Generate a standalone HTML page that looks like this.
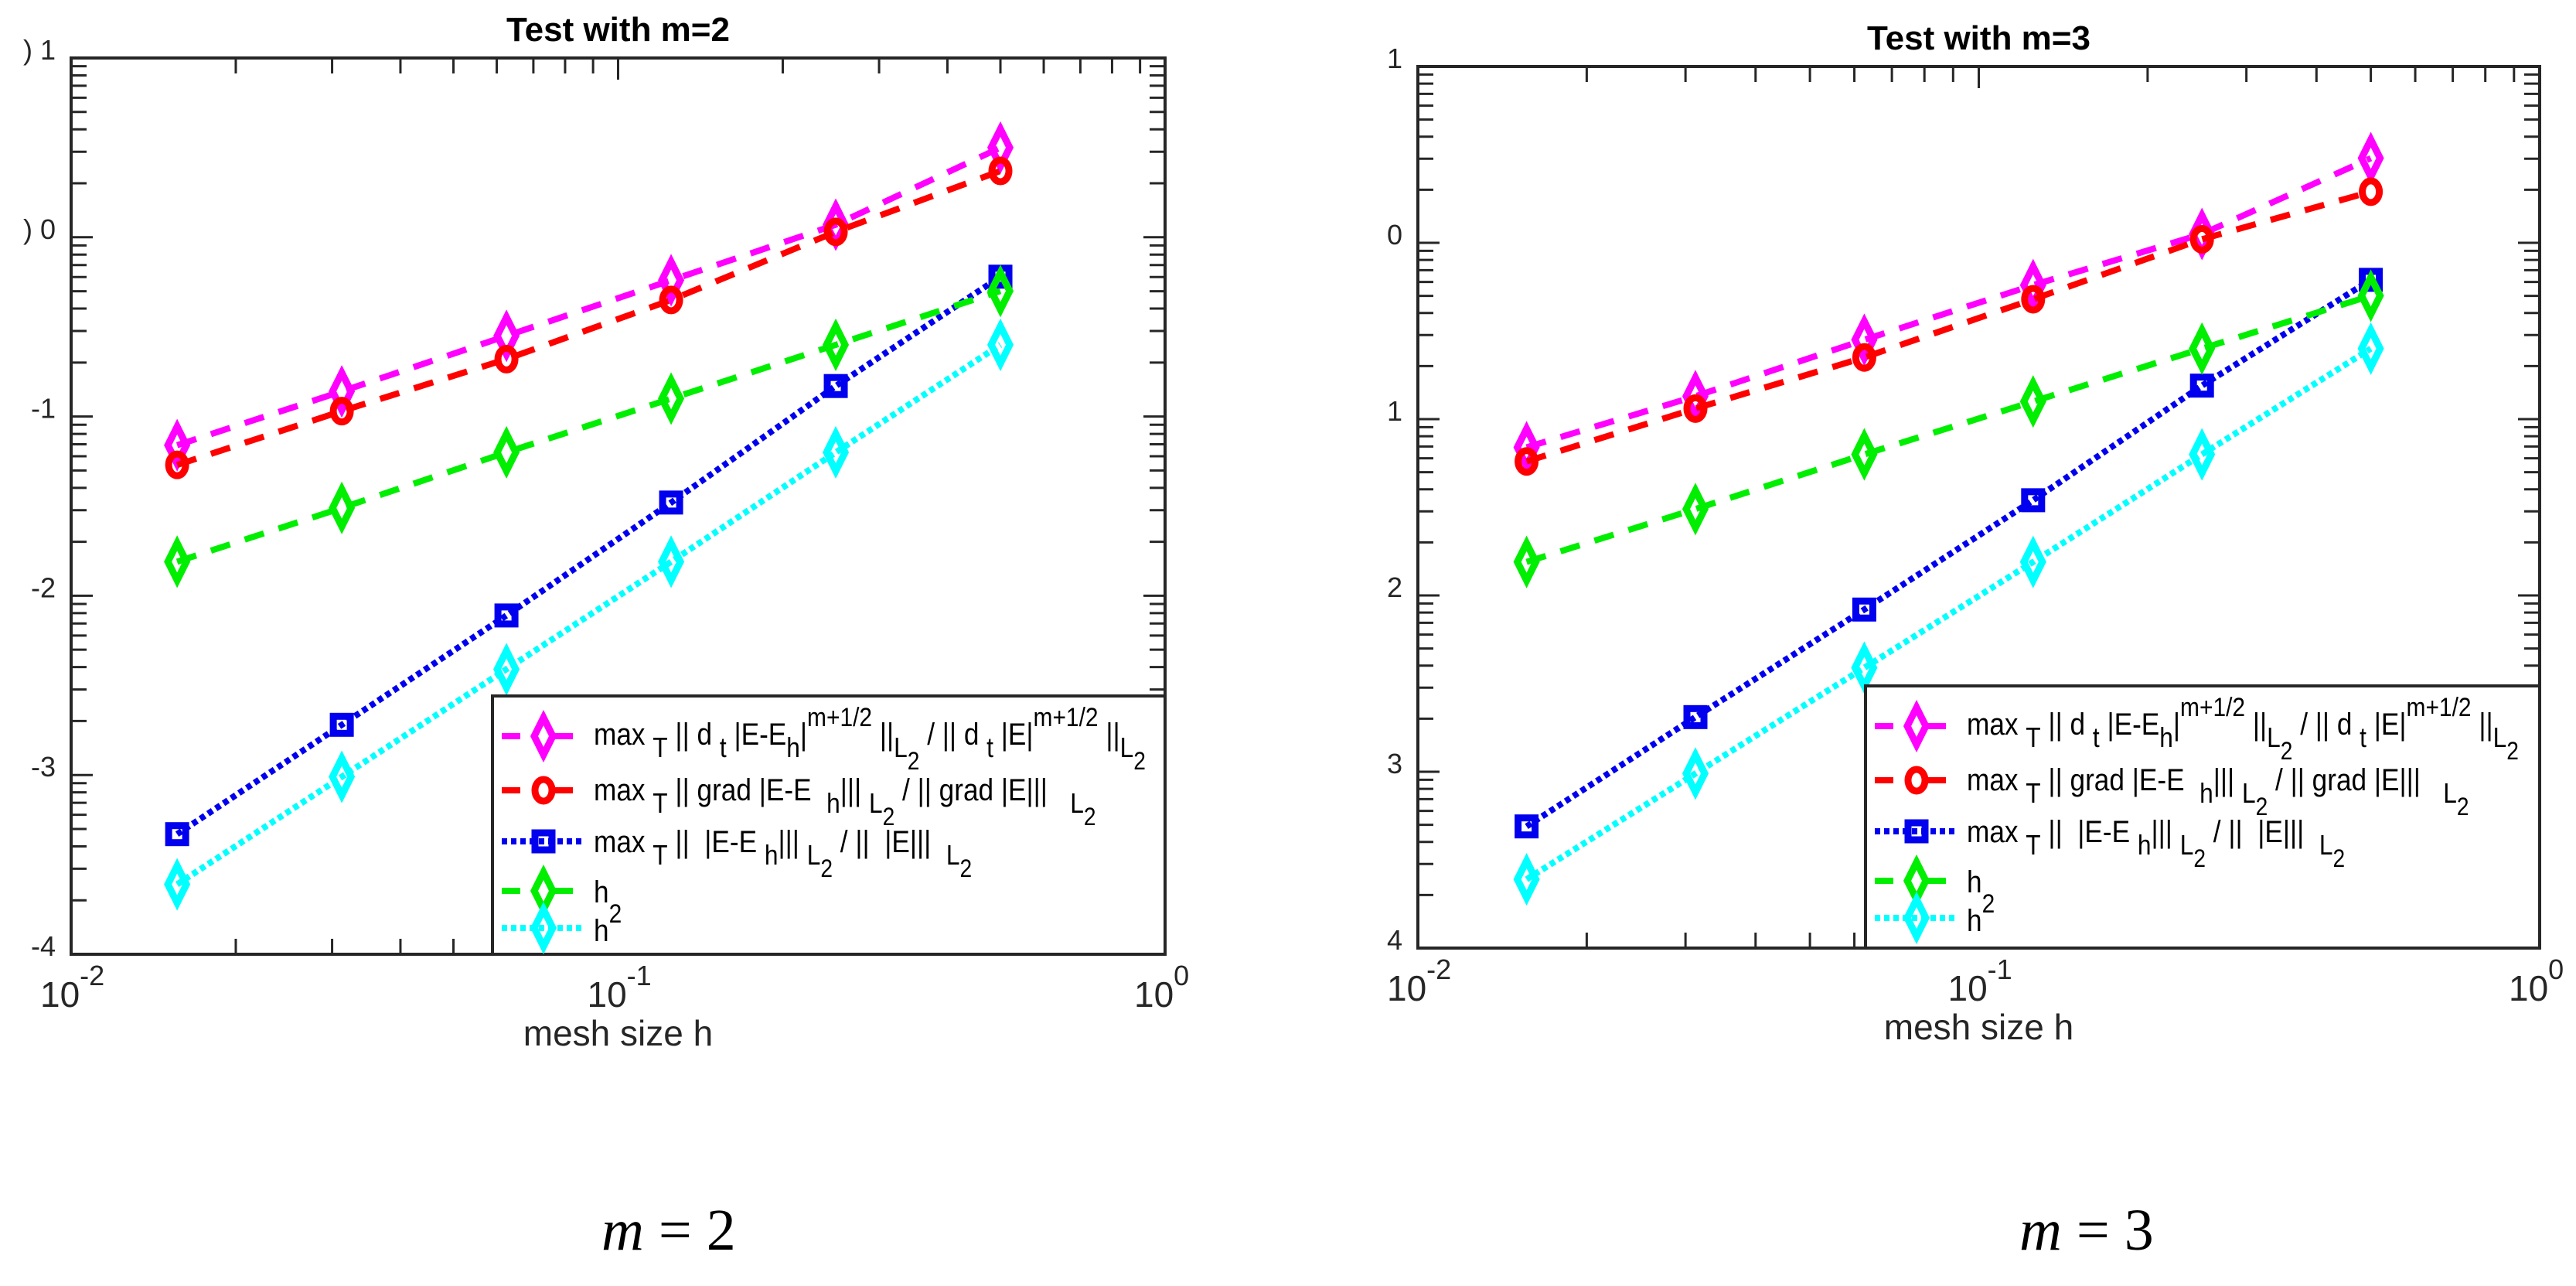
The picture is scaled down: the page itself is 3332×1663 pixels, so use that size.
<!DOCTYPE html>
<html><head><meta charset="utf-8"><style>
html,body{margin:0;padding:0;background:#fff;}
body{width:3332px;height:1663px;position:relative;overflow:hidden;font-family:"Liberation Sans",sans-serif;}
svg{position:absolute;left:0;top:0;}
.leg{position:absolute;font-family:"Liberation Sans",sans-serif;font-size:40px;color:#000;white-space:nowrap;line-height:1;transform:scaleX(0.88);transform-origin:0 0;}
.leg .sb{position:relative;top:16px;font-size:36px;}
.leg .sbb{position:relative;top:32px;font-size:32px;}
.leg .sp{position:relative;top:-24px;font-size:34px;}
.cap{position:absolute;font-family:"Liberation Serif",serif;font-size:76px;top:1548px;}
</style></head><body>
<svg id="fig" width="3332" height="1663"></svg>
<div class="cap" style="left:778px;"><i>m</i> = 2</div>
<div class="cap" style="left:2612px;"><i>m</i> = 3</div>
<script>
const hVals=[1/64,1/32,1/16,1/8,1/4,1/2];
const seriesNames=["dt-error","grad-error","l2-error","h","h2"];
const m2_dt=[-1.16,-0.86,-0.55,-0.24,0.07,0.50];
const m2_grad=[-1.27,-0.97,-0.68,-0.35,0.03,0.37];
const m2_l2=[-3.33,-2.72,-2.11,-1.48,-0.83,-0.22];
const m2_h=[-1.81,-1.51,-1.20,-0.90,-0.60,-0.30];
const m2_h2=[-3.61,-3.01,-2.41,-1.81,-1.20,-0.60];
const m3_dt=[-1.16,-0.87,-0.55,-0.24,0.05,0.48];
const m3_grad=[-1.24,-0.94,-0.65,-0.32,0.02,0.29];
const m3_l2=[-3.31,-2.69,-2.08,-1.46,-0.81,-0.21];
const m3_h=[-1.81,-1.51,-1.20,-0.90,-0.60,-0.30];
const m3_h2=[-3.61,-3.01,-2.41,-1.81,-1.20,-0.60];
const yTicks2=[") 1",") 0","-1","-2","-3","-4"];
const yTicks3=["1","0","1","2","3","4"];
const xTickExp=["-2","-1","0"];
const NS="http://www.w3.org/2000/svg";
const svg=document.getElementById('fig');
function mk(tag,attrs,parent){const e=document.createElementNS(NS,tag);for(const k in attrs)e.setAttribute(k,attrs[k]);(parent||svg).appendChild(e);return e;}
const styles=[
 {c:"#ff00ff",dash:"26,20",mk:"diamond"},
 {c:"#ff0000",dash:"26,20",mk:"circle"},
 {c:"#0000ee",dash:"7,5",mk:"square"},
 {c:"#00ee00",dash:"26,20",mk:"diamond"},
 {c:"#00ffff",dash:"7,5",mk:"diamond"}];
function marker(g,type,x,y,c){
 if(type==="diamond")mk('path',{d:`M${x} ${y-24}L${x+12} ${y}L${x} ${y+24}L${x-12} ${y}Z`,fill:"none",stroke:c,'stroke-width':9},g);
 else if(type==="circle")mk('ellipse',{cx:x,cy:y,rx:11,ry:14,fill:"none",stroke:c,'stroke-width':9},g);
 else mk('rect',{x:x-11,y:y-11,width:22,height:22,fill:"none",stroke:c,'stroke-width':9},g);
}
function plot(P){
 const g=mk('g',{});
 
 
 const dec=(P.r-P.l)/2, ydec=(P.b-P.t)/5;
 const X=v=>P.l+(Math.log10(v)+2)*dec;
 const Y=lv=>P.t+(1-lv)*ydec;
 mk('rect',{x:P.l,y:P.t,width:P.r-P.l,height:P.b-P.t,fill:"none",stroke:"#262626",'stroke-width':4},g);
 for(let d=-2;d<0;d++)for(let k=1;k<=9;k++){const x=X(k*Math.pow(10,d));const len=k===1?28:20;
  mk('line',{x1:x,y1:P.b,x2:x,y2:P.b-len,stroke:"#262626",'stroke-width':3},g);
  mk('line',{x1:x,y1:P.t,x2:x,y2:P.t+len,stroke:"#262626",'stroke-width':3},g);}
 for(let d=-4;d<1;d++)for(let k=1;k<=9;k++){const y=Y(d+Math.log10(k));const len=k===1?28:20;
  mk('line',{x1:P.l,y1:y,x2:P.l+len,y2:y,stroke:"#262626",'stroke-width':3},g);
  mk('line',{x1:P.r,y1:y,x2:P.r-len,y2:y,stroke:"#262626",'stroke-width':3},g);}
 P.yt.forEach((s,i)=>{const t=mk('text',{x:P.l-20,y:Y(1-i)+2,'text-anchor':'end','font-size':36,fill:"#262626"},g);t.textContent=s;
  });
 xTickExp.forEach((s,i)=>{const x=P.l+i*dec;const t=mk('text',{x:x-40,y:P.b+68,'font-size':46,fill:"#262626"},g);
  
  t.textContent="10";const s2=mk('tspan',{dy:-28,'font-size':36},t);s2.textContent=s;});
 const xl=mk('text',{x:(P.l+P.r)/2,y:P.b+118,'text-anchor':'middle','font-size':46,fill:"#262626"},g);xl.textContent="mesh size h";
 
 const tt=mk('text',{x:(P.l+P.r)/2,y:P.t-22,'text-anchor':'middle','font-size':44,'font-weight':'bold',fill:"#000"},g);tt.textContent=P.title;
 
 P.series.forEach((vals,si)=>{const st=styles[si];
  const sg=mk('g',{},g);
  const pts=vals.map((v,i)=>X(hVals[i]).toFixed(1)+","+Y(v).toFixed(1)).join(" ");
  mk('polyline',{points:pts,fill:"none",stroke:st.c,'stroke-width':8,'stroke-dasharray':st.dash},sg);
  vals.forEach((v,i)=>marker(sg,st.mk,X(hVals[i]),Y(v),st.c));});
 const L=P.leg;
 const lb=mk('rect',{x:L.x,y:L.y,width:L.w,height:L.h,fill:"#fff",stroke:"#262626",'stroke-width':4},g);
 
 L.rows.forEach((ry,si)=>{const st=styles[si];const y=L.y+ry;
  mk('line',{x1:L.x+12,y1:y,x2:L.x+120,y2:y,stroke:st.c,'stroke-width':8,'stroke-dasharray':si===2||si===4?"7,5":"24,44"},g);
  marker(g,st.mk,L.x+66,y,st.c);});
}
plot({name:"plot-m2",l:92,r:1507,t:75,b:1234,title:"Test with m=2",yt:yTicks2,
 series:[m2_dt,m2_grad,m2_l2,m2_h,m2_h2],leg:{x:637,y:900,w:870,h:334,rows:[52,122,188,252,300]}});
plot({name:"plot-m3",l:1834,r:3285,t:86,b:1226,title:"Test with m=3",yt:yTicks3,
 series:[m3_dt,m3_grad,m3_l2,m3_h,m3_h2],leg:{x:2413,y:887,w:872,h:339,rows:[52,122,188,252,300]}});
</script>
<div>
<div class="leg" style="left:768px;top:930px;">max <span class="sb">T</span> || d <span class="sb">t</span> |E-E<span class="sb">h</span>|<span class="sp">m+1/2</span> ||<span class="sb">L</span><span class="sbb">2</span> / || d <span class="sb">t</span> |E|<span class="sp">m+1/2</span> ||<span class="sb">L</span><span class="sbb">2</span></div>
<div class="leg" style="left:768px;top:1002px;">max <span class="sb">T</span> || grad |E-E &nbsp;<span class="sb">h</span>||| <span class="sb">L</span><span class="sbb">2</span> / || grad |E||| &nbsp;&nbsp;<span class="sb">L</span><span class="sbb">2</span></div>
<div class="leg" style="left:768px;top:1069px;">max <span class="sb">T</span> || &nbsp;|E-E <span class="sb">h</span>||| <span class="sb">L</span><span class="sbb">2</span> / || &nbsp;|E||| &nbsp;<span class="sb">L</span><span class="sbb">2</span></div>
<div class="leg" style="left:768px;top:1134px;">h</div>
<div class="leg" style="left:768px;top:1184px;">h<span class="sp">2</span></div>
</div>
<div>
<div class="leg" style="left:2544px;top:917px;">max <span class="sb">T</span> || d <span class="sb">t</span> |E-E<span class="sb">h</span>|<span class="sp">m+1/2</span> ||<span class="sb">L</span><span class="sbb">2</span> / || d <span class="sb">t</span> |E|<span class="sp">m+1/2</span> ||<span class="sb">L</span><span class="sbb">2</span></div>
<div class="leg" style="left:2544px;top:989px;">max <span class="sb">T</span> || grad |E-E &nbsp;<span class="sb">h</span>||| <span class="sb">L</span><span class="sbb">2</span> / || grad |E||| &nbsp;&nbsp;<span class="sb">L</span><span class="sbb">2</span></div>
<div class="leg" style="left:2544px;top:1056px;">max <span class="sb">T</span> || &nbsp;|E-E <span class="sb">h</span>||| <span class="sb">L</span><span class="sbb">2</span> / || &nbsp;|E||| &nbsp;<span class="sb">L</span><span class="sbb">2</span></div>
<div class="leg" style="left:2544px;top:1121px;">h</div>
<div class="leg" style="left:2544px;top:1171px;">h<span class="sp">2</span></div>
</div>
</body></html>
